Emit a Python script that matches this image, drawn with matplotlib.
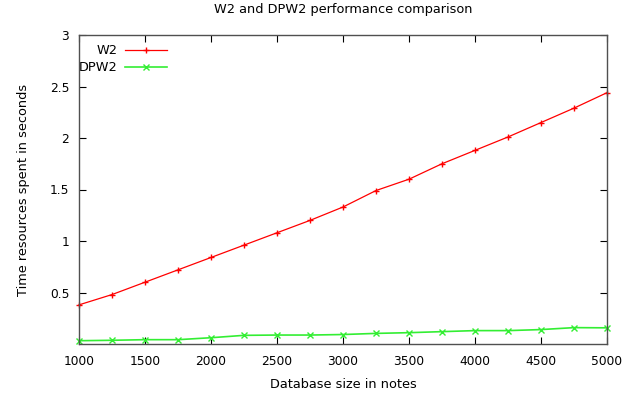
# W2 vs DPW2 timing plot, redrawn in the look of the gnuplot png output
import matplotlib
matplotlib.use('Agg')
import matplotlib.pyplot as plt

# database sizes (notes)
sizes = [1000, 1250, 1500, 1750, 2000, 2250, 2500, 2750, 3000,
         3250, 3500, 3750, 4000, 4250, 4500, 4750, 5000]
# seconds
w2_times = [0.38, 0.48, 0.60, 0.72, 0.84, 0.96, 1.08, 1.20, 1.33,
            1.49, 1.60, 1.75, 1.88, 2.01, 2.15, 2.29, 2.44]
dpw2_times = [0.032, 0.036, 0.042, 0.042, 0.061, 0.084, 0.087, 0.087, 0.092,
              0.103, 0.11, 0.12, 0.13, 0.13, 0.14, 0.159, 0.157]

x_ticks = [1000, 1500, 2000, 2500, 3000, 3500, 4000, 4500, 5000]
y_ticks = [0.5, 1, 1.5, 2, 2.5, 3]

plt.rcParams['font.family'] = ['DejaVu Sans']
fs = 9.3

fig = plt.figure(figsize=(6.43, 4.0), dpi=100)
ax = fig.add_axes([0.1229, 0.14, 0.944 - 0.1229, 0.9125 - 0.14])

ax.plot(sizes, w2_times, color='#ff0000', lw=0.9, marker='+', ms=5, mew=1.0,
        label='W2', clip_on=False)
ax.plot(sizes, dpw2_times, color='#33ee33', lw=1.2, marker='x', ms=4.2, mew=1.0,
        label='DPW2', clip_on=False)

ax.set_xlim(1000, 5000)
ax.set_ylim(0, 3)
ax.set_xticks(x_ticks)
ax.set_yticks(y_ticks)
ax.set_yticklabels(['0.5', '1', '1.5', '2', '2.5', '3'])

# gnuplot style: inward ticks, mirrored on all sides
ax.tick_params(direction='in', length=5, width=0.8, top=True, right=True,
               labelsize=8.8, color='black')
ax.tick_params(axis='x', pad=8)
ax.tick_params(axis='y', pad=7)
for sp in ax.spines.values():
    sp.set_color('#505050')
    sp.set_linewidth(1.0)

ax.set_title('W2 and DPW2 performance comparison', fontsize=fs, pad=16)
ax.set_xlabel('Database size in notes', fontsize=fs, labelpad=7)
ax.set_ylabel('Time resources spent in seconds', fontsize=fs, labelpad=14)

ax.legend(loc='upper left', bbox_to_anchor=(-0.015, 0.995), frameon=False,
          markerfirst=False, handlelength=3.2, handletextpad=0.6,
          labelspacing=0.3, fontsize=fs, borderaxespad=0.2)

fig.savefig('out.png', dpi=100)
